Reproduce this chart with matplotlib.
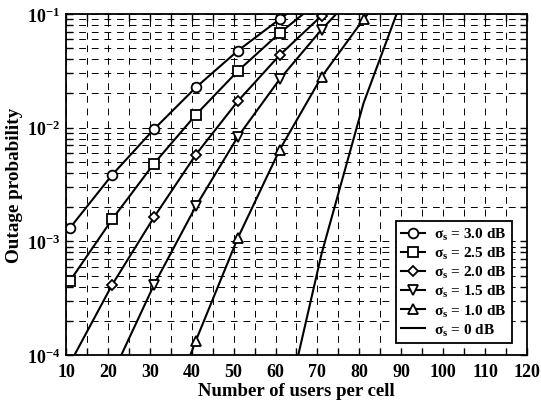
import numpy as np
import matplotlib
matplotlib.use('Agg')
import matplotlib.pyplot as plt
from matplotlib.ticker import MultipleLocator, LogLocator

plt.rcParams['font.family'] = 'Liberation Serif'
plt.rcParams['font.weight'] = 'bold'
plt.rcParams['mathtext.fontset'] = 'custom'
plt.rcParams['mathtext.rm'] = 'Liberation Serif:bold'
plt.rcParams['mathtext.bf'] = 'Liberation Serif:bold'
plt.rcParams['mathtext.it'] = 'Liberation Serif:bold'

# users per cell (markers every 10 users)
x_30 = [11, 21, 31, 41, 51, 61, 71]
p_30 = [1.32e-3, 3.84e-3, 9.7e-3, 2.26e-2, 4.75e-2, 9.0e-2, 0.17]

x_25 = [11, 21, 31, 41, 51, 61, 71]
p_25 = [4.52e-4, 1.56e-3, 4.83e-3, 1.30e-2, 3.15e-2, 6.8e-2, 0.135]

x_20 = [11, 21, 31, 41, 51, 61, 71, 81]
p_20 = [8.5e-5, 4.14e-4, 1.63e-3, 5.8e-3, 1.71e-2, 4.35e-2, 9.66e-2, 0.19]

x_15 = [21, 31, 41, 51, 61, 71, 81]
p_15 = [6.7e-5, 4.14e-4, 2.04e-3, 8.3e-3, 2.67e-2, 7.3e-2, 0.18]

x_10 = [31, 41, 51, 61, 71, 81, 91]
p_10 = [1.5e-5, 1.34e-4, 1.07e-3, 6.4e-3, 2.8e-2, 9.0e-2, 0.25]

x_00 = [61, 71, 81, 91]
p_00 = [1.95e-5, 7.8e-4, 1.64e-2, 0.162]

labels = [r'$\mathbf{\sigma_s}$ = 3.0 dB', r'$\mathbf{\sigma_s}$ = 2.5 dB',
          r'$\mathbf{\sigma_s}$ = 2.0 dB', r'$\mathbf{\sigma_s}$ = 1.5 dB',
          r'$\mathbf{\sigma_s}$ = 1.0 dB', r'$\mathbf{\sigma_s}$ = 0 dB']

fig = plt.figure(figsize=(5.41, 4.02), dpi=100)
ax = fig.add_axes([0.122, 0.1144, 0.852, 0.8483])

# (x, y, marker, size, marker indices)
series = [(x_30, p_30, 'o', 7, [0, 1, 2, 3, 4, 5]),
          (x_25, p_25, 's', 6.5, [0, 1, 2, 3, 4, 5]),
          (x_20, p_20, 'D', 5, [1, 2, 3, 4, 5, 6]),
          (x_15, p_15, 'v', 7, [1, 2, 3, 4, 5]),
          (x_10, p_10, '^', 7, [1, 2, 3, 4, 5])]

for (xs, ps, m, ms, mk), lab in zip(series, labels[:5]):
    ax.semilogy(xs, ps, color='black', linewidth=1.5, marker=m, markevery=mk,
                markersize=ms, markerfacecolor='white', markeredgecolor='black',
                markeredgewidth=1.3, label=lab)
ax.semilogy(x_00, p_00, color='black', linewidth=1.5, label=labels[5])

ax.set_xlim(10, 120)
ax.set_ylim(1e-4, 1e-1)
ax.xaxis.set_major_locator(MultipleLocator(10))
ax.xaxis.set_minor_locator(MultipleLocator(5))
ax.yaxis.set_major_locator(LogLocator(base=10))
ax.yaxis.set_minor_locator(LogLocator(base=10, subs=np.arange(2, 10)))

ax.grid(True, which='both', color='black', linestyle=(0, (7, 6)), linewidth=0.7)
ax.tick_params(which='both', direction='in', top=True, right=True, length=5, width=1)
ax.tick_params(which='minor', labelleft=False)
ax.tick_params(labelsize=13)
ax.tick_params(axis='x', pad=6)
ax.tick_params(axis='y', pad=4)
for s in ax.spines.values():
    s.set_linewidth(1.3)

ax.set_xlabel('Number of users per cell', fontsize=13.5, fontweight='bold', labelpad=1)
ax.set_ylabel('Outage probability', fontsize=13.8, fontweight='bold', labelpad=3)

leg = ax.legend(loc='lower right', bbox_to_anchor=(0.968, 0.035), fontsize=11,
                fancybox=False, framealpha=1, edgecolor='black', handlelength=1.6,
                borderpad=0.35, labelspacing=0.2, handletextpad=0.6, borderaxespad=0)
leg.get_frame().set_linewidth(1.3)

plt.savefig('out.png', dpi=100)
